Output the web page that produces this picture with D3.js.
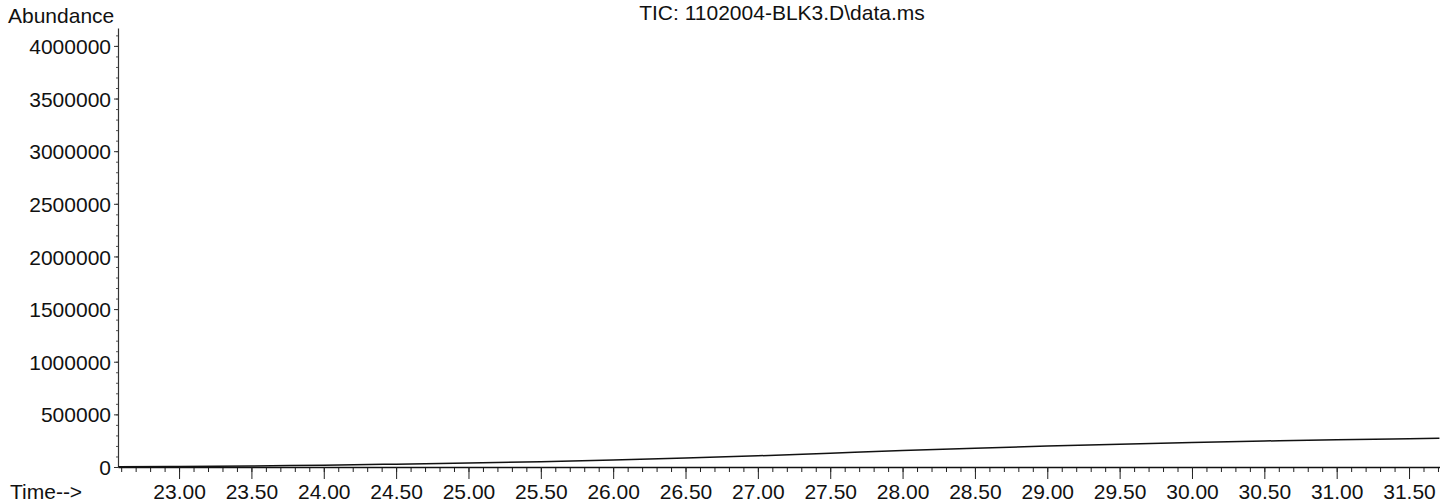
<!DOCTYPE html>
<html>
<head>
<meta charset="utf-8">
<script src="https://cdn.jsdelivr.net/npm/d3@7"></script>
<style>
  body { margin: 0; background: #fff; }
  svg { display: block; font-family: "Liberation Sans", Arial, sans-serif; }
</style>
</head>
<body>
<svg id="chart"></svg>
<script>
// retention time (min) and TIC abundance
const times = [22.58, 23.0, 23.5, 24.0, 24.5, 25.0, 25.5, 26.0, 26.5, 27.0,
    27.5, 28.0, 28.5, 29.0, 29.5, 30.0, 30.5, 31.0, 31.5, 31.71];
const abundance = [2000, 5000, 10000, 17000, 27000, 38000, 51000, 67000, 85000, 106000,
    131000, 156000, 179000, 199000, 217000, 233000, 247000, 259000, 269000, 273000];
const yTicks = [0, 500000, 1000000, 1500000, 2000000, 2500000, 3000000, 3500000, 4000000];
const xTicks = [23.0, 23.5, 24.0, 24.5, 25.0, 25.5, 26.0, 26.5, 27.0, 27.5,
    28.0, 28.5, 29.0, 29.5, 30.0, 30.5, 31.0, 31.5];
const title = "TIC: 1102004-BLK3.D\\data.ms";

let width = 1440;
let height = 504;
let margin = {top: 28, right: 0, bottom: 37, left: 118};

let svg = d3.select("#chart")
    .attr("width", width)
    .attr("height", height);

let xScale = d3.scaleLinear()
    .domain([22.578, 31.714])
    .range([margin.left, width - margin.right]);

let yScale = d3.scaleLinear()
    .domain([0, 4170000])
    .range([height - margin.bottom, margin.top]);

// minor ticks every 0.1 min on x
let xMinor = d3.range(226, 318).map(d => d / 10);
svg.append("g")
    .attr("transform", `translate(0, ${height - margin.bottom})`)
    .call(d3.axisBottom(xScale).tickValues(xMinor).tickSize(5).tickFormat(""))
    .call(g => g.select(".domain").remove())
    .selectAll("line").attr("stroke", "#222");

let xAxis = svg.append("g")
    .attr("transform", `translate(0, ${height - margin.bottom})`)
    .call(d3.axisBottom(xScale).tickValues(xTicks).tickSize(12).tickSizeOuter(0)
        .tickFormat(d3.format(".2f")));
xAxis.select(".domain").attr("stroke", "#111").attr("stroke-width", 1.5);
xAxis.selectAll("line").attr("stroke", "#222");
xAxis.selectAll("text")
    .attr("y", 0)
    .attr("dy", 0)
    .attr("transform", "translate(0, 32)")
    .attr("font-size", 21)
    .attr("fill", "#111");

// minor ticks every 100000 on y
let yMinor = d3.range(0, 4100001, 100000);
svg.append("g")
    .attr("transform", `translate(${margin.left}, 0)`)
    .call(d3.axisLeft(yScale).tickValues(yMinor).tickSize(2).tickFormat(""))
    .call(g => g.select(".domain").remove())
    .selectAll("line").attr("stroke", "#555");

let yAxis = svg.append("g")
    .attr("transform", `translate(${margin.left}, 0)`)
    .call(d3.axisLeft(yScale).tickValues(yTicks).tickSize(4).tickSizeOuter(0)
        .tickFormat(d3.format("d")));
yAxis.select(".domain").attr("stroke", "#333").attr("stroke-width", 1.2);
yAxis.selectAll("line").attr("stroke", "#333");
yAxis.selectAll("text")
    .attr("font-size", 21)
    .attr("x", -7)
    .attr("dy", "0.36em")
    .attr("fill", "#111");

let line = d3.line()
    .x((d, i) => xScale(times[i]))
    .y(d => yScale(d))
    .curve(d3.curveMonotoneX);

svg.append("path")
    .datum(abundance)
    .attr("fill", "none")
    .attr("stroke", "#111")
    .attr("stroke-width", 1.5)
    .attr("d", line);

svg.append("text")
    .attr("x", 8)
    .attr("y", 23)
    .attr("font-size", 21)
    .attr("fill", "#111")
    .text("Abundance");

svg.append("text")
    .attr("x", 782)
    .attr("y", 20)
    .attr("text-anchor", "middle")
    .attr("font-size", 21)
    .attr("fill", "#111")
    .text(title);

svg.append("text")
    .attr("x", 10)
    .attr("y", 499)
    .attr("font-size", 21)
    .attr("fill", "#111")
    .text("Time-->");
</script>
</body>
</html>
